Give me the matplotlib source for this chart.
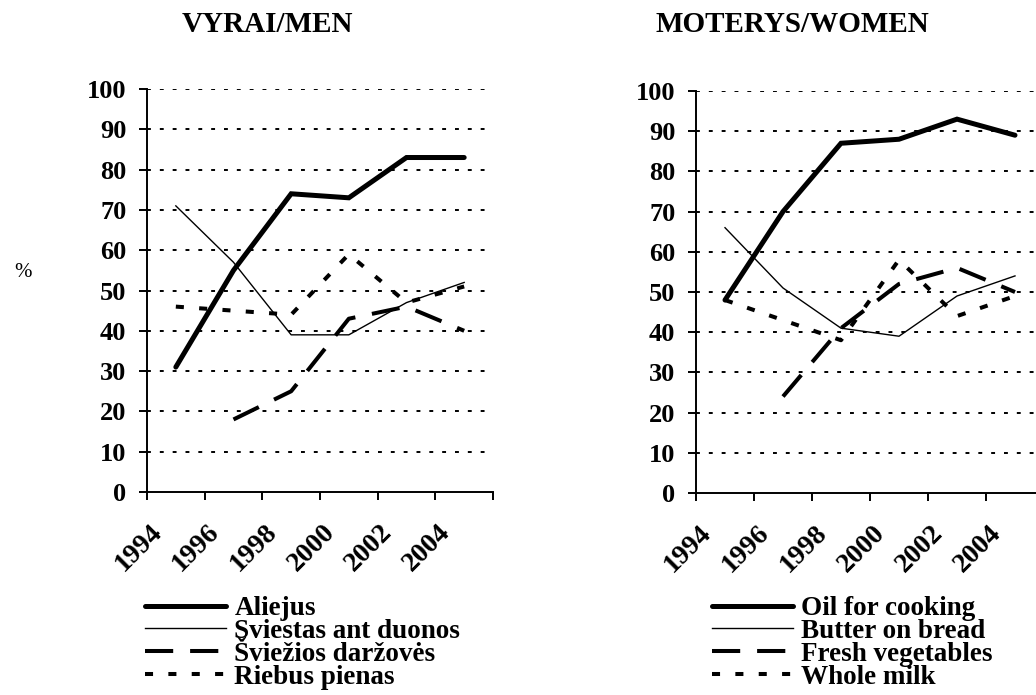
import numpy as np
import matplotlib
matplotlib.use("Agg")
import matplotlib.pyplot as plt
import matplotlib.transforms as mtransforms

plt.rcParams['font.family'] = ['Liberation Serif', 'DejaVu Serif']

years = [1995, 1997, 1999, 2001, 2003, 2005]
tick_years = [1994, 1996, 1998, 2000, 2002, 2004, 2006]
tick_labels = ['1994', '1996', '1998', '2000', '2002', '2004', '']
yticks = [0, 10, 20, 30, 40, 50, 60, 70, 80, 90, 100]

men_oil = [31, 55, 74, 73, 83, 83]
men_butter = [71, 57, 39, 39, 47, 52]
men_veg = [np.nan, 18, 25, 43, 46, 40]
men_milk = [46, 45, 44, 59, 47, 51]

women_oil = [48, 70, 87, 88, 93, 89]
women_butter = [66, 51, 41, 39, 49, 54]
women_veg = [np.nan, 24, 41, 52, 56, 50]
women_milk = [48, 43, 38, 58, 44, 49]

labels_lt = ['Aliejus', 'Sviestas ant duonos', 'Šviežios daržovės', 'Riebus pienas']
labels_en = ['Oil for cooking', 'Butter on bread', 'Fresh vegetables', 'Whole milk']

W, H = 1036, 695
fig = plt.figure(figsize=(W / 100, H / 100), dpi=100)


def fx(px):
    return px / W


def fy(py):
    return 1 - py / H


def make_axes(x0, x1, ytop, ybot, series, labels, leg_x, leg_y):
    ax = fig.add_axes([fx(x0), fy(ybot), fx(x1 - x0), (ybot - ytop) / H])
    oil, butter, veg, milk = series
    ax.plot(years, oil, color='black', lw=3.6, solid_capstyle='round',
            solid_joinstyle='miter', label=labels[0])
    ax.plot(years, butter, color='black', lw=1.0, label=labels[1])
    ax.plot(years, veg, color='black', lw=2.9, dashes=(7, 4.2), label=labels[2])
    ax.plot(years, milk, color='black', lw=2.9, dashes=(2, 3.8), label=labels[3])
    ax.set_xlim(1994, 2006)
    ax.set_ylim(0, 100)
    ax.set_yticks(yticks)
    ax.set_yticklabels([str(v) for v in yticks], fontsize=19, fontweight='bold')
    ax.set_xticks(tick_years)
    ax.set_xticklabels(tick_labels, fontsize=20, fontweight='bold', rotation=45,
                       ha='right', va='center', rotation_mode='anchor')
    for g in yticks[1:]:
        ax.axhline(g, color='black', lw=1.4, dashes=(2, 4.6), zorder=0)
    for s in ['top', 'right']:
        ax.spines[s].set_visible(False)
    for s in ['left', 'bottom']:
        ax.spines[s].set_linewidth(1.4)
    ax.tick_params(axis='y', direction='out', length=5.8, width=1.4, pad=9)
    ax.tick_params(axis='x', direction='out', length=5.8, width=1.4, pad=20.5)
    off = mtransforms.ScaledTranslation(8 / 72, 0, fig.dpi_scale_trans)
    for lab in ax.get_xticklabels():
        lab.set_transform(lab.get_transform() + off)
    ax.legend(loc='upper left', bbox_to_anchor=(fx(leg_x), fy(leg_y)),
              bbox_transform=fig.transFigure, frameon=False,
              prop={'size': 19.5, 'weight': 'bold'}, handlelength=3.0,
              handletextpad=0.3, labelspacing=-0.08, borderpad=0,
              borderaxespad=0)
    return ax


make_axes(147, 493, 89, 492, (men_oil, men_butter, men_veg, men_milk),
          labels_lt, 145, 596)
make_axes(696, 1044, 91, 493, (women_oil, women_butter, women_veg, women_milk),
          labels_en, 712, 596)

fig.text(fx(267), fy(24), 'VYRAI/MEN', fontsize=21, fontweight='bold',
         ha='center', va='center')
fig.text(fx(792), fy(24), 'MOTERYS/WOMEN', fontsize=21, fontweight='bold',
         ha='center', va='center')
fig.text(fx(23), fy(272), '%', fontsize=15, ha='center', va='center')

fig.savefig('out.png', dpi=100)
